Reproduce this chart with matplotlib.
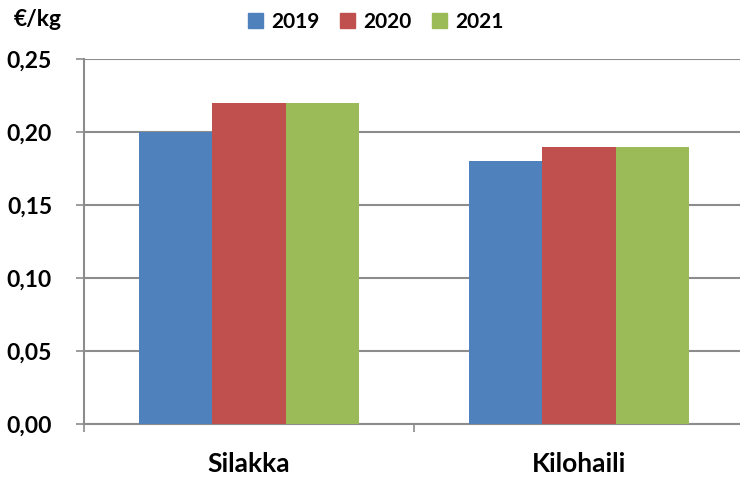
import matplotlib.pyplot as plt
import numpy as np
from matplotlib.patches import Patch

categories = ['Silakka', 'Kilohaili']
years = ['2019', '2020', '2021']
prices = {
    '2019': [0.20, 0.18],
    '2020': [0.22, 0.19],
    '2021': [0.22, 0.19],
}
colors = ['#4F81BD', '#C0504D', '#9BBB59']
yticks = [0.00, 0.05, 0.10, 0.15, 0.20, 0.25]

plt.rcParams['font.family'] = ['Lato', 'DejaVu Sans']

fig = plt.figure(figsize=(7.4, 4.78), dpi=100)
ax = fig.add_axes([84 / 740, 54 / 478, 656 / 740, 365 / 478])

x = np.arange(len(categories))
width = 0.222
for i, year in enumerate(years):
    ax.bar(x + (i - 1) * width, prices[year], width, color=colors[i], zorder=3)

ax.set_ylim(0, 0.25)
ax.set_xlim(-0.5, 1.5 - 4 / 330)
ax.set_yticks(yticks)
ax.set_yticklabels([f'{v:.2f}'.replace('.', ',') for v in yticks],
                   fontsize=16.5, fontweight='bold')
ax.yaxis.grid(True, color='#8c8c8c', linewidth=1.5, zorder=0)
ax.tick_params(axis='y', length=6, width=1.2, color='#8c8c8c', pad=17)

ax.set_xticks(x)
ax.set_xticklabels(categories, fontsize=19, fontweight='bold')
ax.set_xticks([-0.5, 0.5], minor=True)
ax.tick_params(axis='x', which='major', length=0, pad=20)
ax.tick_params(axis='x', which='minor', length=6, width=1.2, color='#8c8c8c')

for side in ['top', 'right']:
    ax.spines[side].set_visible(False)
for side in ['left', 'bottom']:
    ax.spines[side].set_color('#8c8c8c')
    ax.spines[side].set_linewidth(1.5)

fig.text(14 / 740, 1 - 19 / 478, '€/kg', fontsize=16.5, fontweight='bold', va='center')

handles = [Patch(color=c, label=y) for c, y in zip(colors, years)]
fig.legend(handles=handles, loc='center', bbox_to_anchor=(376 / 740, 1 - 22 / 478),
           ncol=3, frameon=False, prop={'size': 15, 'weight': 'bold'},
           handlelength=0.7, handleheight=0.7, handletextpad=0.4, columnspacing=1.0)

fig.savefig('out.png', dpi=100)
